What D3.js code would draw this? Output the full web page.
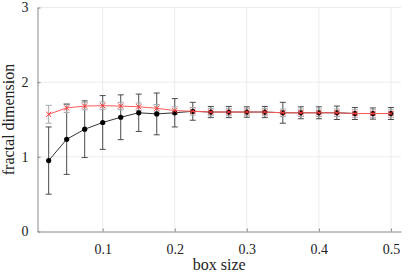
<!DOCTYPE html>
<html>
<head>
<meta charset="utf-8">
<script src="https://cdn.jsdelivr.net/npm/d3@7"></script>
<style>
  body { margin: 0; background: #fff; }
  text { font-family: "Liberation Serif", "DejaVu Serif", serif; fill: #222; }
</style>
</head>
<body>
<div id="chart"></div>
<script>
// box sizes and measured fractal dimension (mean +/- spread)
const boxSizes = [0.025, 0.05, 0.075, 0.1, 0.125, 0.15, 0.175, 0.2, 0.225, 0.25,
                  0.275, 0.3, 0.325, 0.35, 0.375, 0.4, 0.425, 0.45, 0.475, 0.5];
const blackMean = [0.95, 1.235, 1.37, 1.46, 1.53, 1.59, 1.575, 1.59, 1.61, 1.60,
                   1.60, 1.60, 1.60, 1.59, 1.59, 1.59, 1.59, 1.58, 1.58, 1.58];
const blackErr = [0.45, 0.47, 0.38, 0.36, 0.30, 0.25, 0.28, 0.19, 0.12, 0.075,
                  0.075, 0.07, 0.075, 0.14, 0.08, 0.08, 0.09, 0.08, 0.075, 0.08];
const redMean = [1.57, 1.655, 1.68, 1.685, 1.68, 1.67, 1.65, 1.62, 1.61, 1.60,
                 1.60, 1.60, 1.60, 1.59, 1.59, 1.59, 1.59, 1.58, 1.58, 1.58];
const redErr = [0.12, 0.06, 0.05, 0.05, 0.05, 0.05, 0.05, 0.05, 0.05, 0.05,
                0.05, 0.05, 0.05, 0.05, 0.05, 0.05, 0.05, 0.05, 0.05, 0.05];
const xTicks = [0.1, 0.2, 0.3, 0.4, 0.5];
const yTicks = [0, 1, 2, 3];

const W = 409, H = 273;
const margin = {top: 7.5, right: 8, bottom: 41.5, left: 37.5};
const width = W - margin.left - margin.right;
const height = H - margin.top - margin.bottom;

const svg = d3.select("#chart").append("svg")
    .attr("width", W)
    .attr("height", H)
    .append("g")
    .attr("transform", `translate(${margin.left}, ${margin.top})`);

const x = d3.scaleLinear().domain([0.0095, 0.514]).range([0, width]);
const y = d3.scaleLinear().domain([0, 3]).range([height, 0]);

// grid
svg.append("g").selectAll("line").data(xTicks).join("line")
    .attr("x1", d => x(d)).attr("x2", d => x(d))
    .attr("y1", 0).attr("y2", height)
    .attr("stroke", "#ebebeb").attr("stroke-width", 1);
svg.append("g").selectAll("line").data(yTicks.filter(d => d > 0)).join("line")
    .attr("x1", 0).attr("x2", width)
    .attr("y1", d => y(d)).attr("y2", d => y(d))
    .attr("stroke", "#ebebeb").attr("stroke-width", 1);

// axes, ticks pointing inward
const xAxis = svg.append("g")
    .attr("transform", `translate(0, ${height})`)
    .call(d3.axisBottom(x).tickValues(xTicks).tickSize(-3).tickSizeOuter(0)
        .tickPadding(13).tickFormat(d3.format(".1f")));
const yAxis = svg.append("g")
    .call(d3.axisLeft(y).tickValues(yTicks).tickSize(-3).tickSizeOuter(0)
        .tickPadding(9).tickFormat(d3.format("d")));

[xAxis, yAxis].forEach(a => {
    a.attr("font-family", "Liberation Serif").attr("font-size", 14);
    a.select(".domain").attr("stroke", "#8a8a8a");
    a.selectAll(".tick line").attr("stroke", "#8a8a8a");
    a.selectAll("text").attr("fill", "#222");
});

svg.append("text")
    .attr("x", width / 2).attr("y", height + 38)
    .attr("text-anchor", "middle")
    .style("font-size", "16px")
    .text("box size");

svg.append("text")
    .attr("transform", `translate(${-24}, ${height / 2}) rotate(-90)`)
    .attr("text-anchor", "middle")
    .style("font-size", "16px")
    .text("fractal dimension");

const capW = 3;

function errorBars(mean, err, color) {
    const g = svg.append("g").attr("stroke", color).attr("stroke-width", 1).attr("fill", "none");
    boxSizes.forEach((b, i) => {
        const cx = x(b), top = y(mean[i] + err[i]), bot = y(mean[i] - err[i]);
        g.append("line").attr("x1", cx).attr("x2", cx).attr("y1", top).attr("y2", bot);
        g.append("line").attr("x1", cx - capW).attr("x2", cx + capW).attr("y1", top).attr("y2", top);
        g.append("line").attr("x1", cx - capW).attr("x2", cx + capW).attr("y1", bot).attr("y2", bot);
    });
}

const line = d3.line().x(d => x(d[0])).y(d => y(d[1]));

errorBars(blackMean, blackErr, "#4a4a4a");
errorBars(redMean, redErr, "#a8a8a8");

svg.append("path")
    .datum(boxSizes.map((b, i) => [b, blackMean[i]]))
    .attr("d", line)
    .attr("fill", "none").attr("stroke", "#333").attr("stroke-width", 1);

svg.append("g").selectAll("circle")
    .data(boxSizes.map((b, i) => [b, blackMean[i]]))
    .join("circle")
    .attr("cx", d => x(d[0])).attr("cy", d => y(d[1]))
    .attr("r", 2.6).attr("fill", "#000");

svg.append("path")
    .datum(boxSizes.map((b, i) => [b, redMean[i]]))
    .attr("d", line)
    .attr("fill", "none").attr("stroke", "#ff5a5a").attr("stroke-width", 1);

const xm = 2.6;
svg.append("g").selectAll("path.xmark")
    .data(boxSizes.map((b, i) => [b, redMean[i]]))
    .join("path")
    .attr("class", "xmark")
    .attr("d", d => {
        const cx = x(d[0]), cy = y(d[1]);
        return `M${cx - xm},${cy - xm}L${cx + xm},${cy + xm}M${cx - xm},${cy + xm}L${cx + xm},${cy - xm}`;
    })
    .attr("stroke", "#ff3030").attr("stroke-width", 1).attr("fill", "none");
</script>
</body>
</html>
